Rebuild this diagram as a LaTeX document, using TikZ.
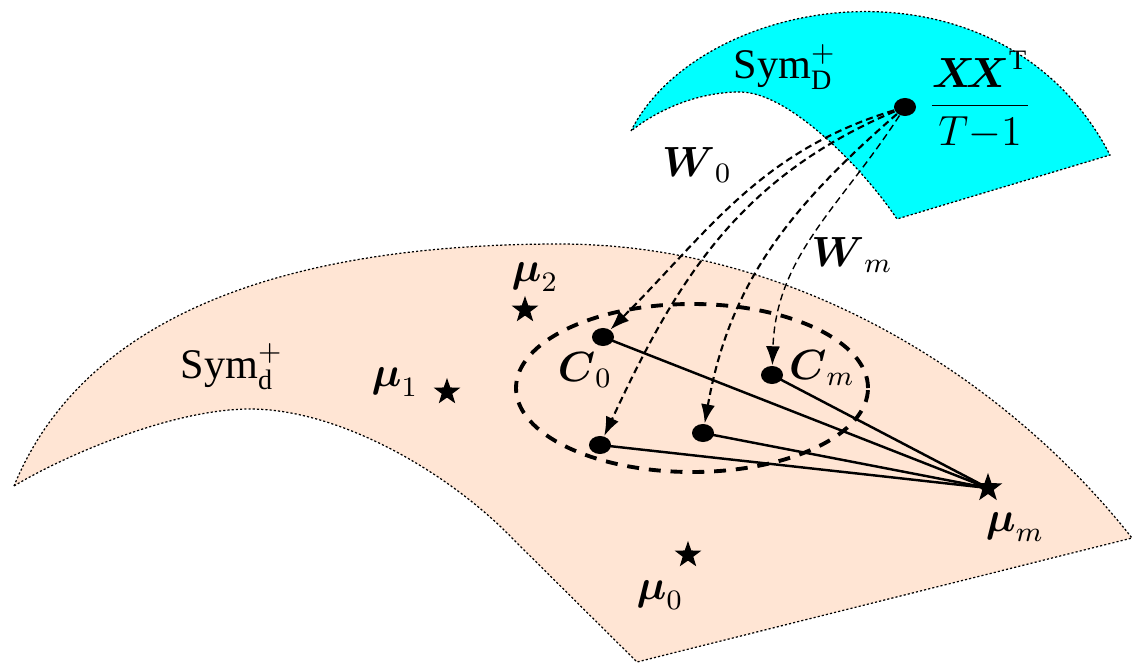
\documentclass[tikz,border=0pt]{standalone}
\usepackage{amsmath, amssymb}
\usepackage{fontspec}
\setmainfont{Liberation Serif}
\usepackage{tikz}
\usetikzlibrary{arrows.meta, shapes.geometric}
\definecolor{SheetPeach}{HTML}{FFE5D4}
\definecolor{SheetCyan}{HTML}{00FFFF}

\begin{document}
\begin{tikzpicture}[x=0.01cm, y=0.01cm, >={Latex[length=0.19cm, width=0.14cm]},
  every node/.style={font=\large},
  rim/.style={line width=0.35pt, dash pattern=on 0.6pt off 0.6pt},
  dot/.style={ellipse, fill, inner sep=0pt, minimum width=0.22cm, minimum height=0.18cm},
  mean/.style={star, star points=5, star point ratio=2.5, fill, inner sep=0pt, minimum size=0.28cm},
  map/.style={->, line width=0.6pt, dash pattern=on 2pt off 1.2pt},
  dist/.style={line width=0.7pt}]
  \useasboundingbox (0,0) rectangle (1139,663);
  % Sym_d^+ sheet
  \filldraw[fill=SheetPeach, rim] (14,177)
    .. controls (85,350) and (290,419) .. (560,419)
    .. controls (800,419) and (1010,280) .. (1132,125)
    -- (637,1) -- (515,122)
    .. controls (450,190) and (340,254) .. (250,254)
    .. controls (170,254) and (60,205) .. cycle;
  % Sym_D^+ sheet
  \filldraw[fill=SheetCyan, rim] (631,532)
    .. controls (700,670) and (1000,720) .. (1110,508)
    -- (897,444)
    .. controls (865,492) and (790,571) .. (740,571)
    .. controls (700,571) and (660,555) .. cycle;
  % neighbourhood of the class
  \draw[line width=1.1pt, dash pattern=on 3.4pt off 2.8pt] (692,275) ellipse [x radius=176, y radius=84];

  % points
  \node[dot] (xx) at (905,556) {};
  \node[dot] (c0) at (603,326) {};
  \node[dot] (d1) at (600,218) {};
  \node[dot] (d2) at (703,230) {};
  \node[dot] (cm) at (772,288) {};
  \node[mean, minimum size=0.3cm] (mum) at (988,175) {};
  \node[mean] (mu0) at (688,108) {};
  \node[mean] (mu1) at (447,271) {};
  \node[mean] (mu2) at (525,353) {};

  % labels
  \node (symD) at (785,596) {$\mathrm{Sym}^+_{\mathrm{D}}$};
  \node (symd) at (232,296) {$\mathrm{Sym}^+_{\mathrm{d}}$};
  \node (xxlab) at (980,563) {$\dfrac{\boldsymbol{X}\mkern-4mu\boldsymbol{X}^{\mathrm{T}}}{T{-}1}$};
  \node (w0lab) at (697,498) {$\boldsymbol{W}_0$};
  \node (wmlab) at (852,408) {$\boldsymbol{W}_m$};
  \node (c0lab) at (585,293) {$\boldsymbol{C}_0$};
  \node (cmlab) at (822,295) {$\boldsymbol{C}_m$};
  \node (mumlab) at (1015,136) {$\boldsymbol{\mu}_m$};
  \node (mu0lab) at (660,68) {$\boldsymbol{\mu}_0$};
  \node (mu1lab) at (395,281) {$\boldsymbol{\mu}_1$};
  \node (mu2lab) at (535,386) {$\boldsymbol{\mu}_2$};

  % distances to the class mean
  \draw[dist] (c0.center) -- (mum.center);
  \draw[dist] (d1.center) -- (mum.center);
  \draw[dist] (d2.center) -- (mum.center);
  \draw[dist] (cm.center) -- (mum.center);

  % projections W_i
  \draw[map] (xx) to[out=197, in=45] (c0);
  \draw[map] (xx) to[out=203, in=65] (d1);
  \draw[map] (xx) to[out=221, in=80] (d2);
  \draw[map, line width=0.4pt] (xx) to[out=237, in=88] (cm);
\end{tikzpicture}
\end{document}
